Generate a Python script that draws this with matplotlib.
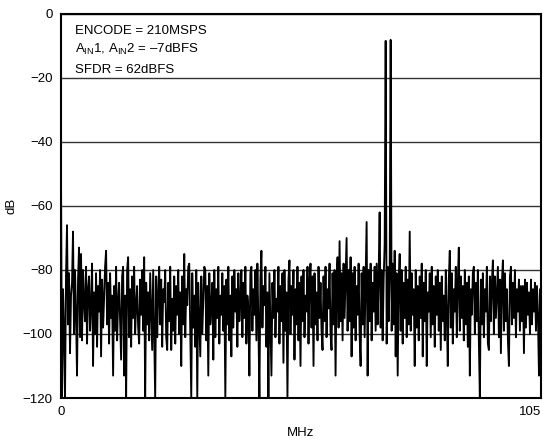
"""FFT spectrum: two-tone test, ENCODE = 210MSPS"""

import numpy as np
import matplotlib
matplotlib.use("Agg")
import matplotlib.pyplot as plt
import matplotlib.transforms as mtransforms

plt.rcParams["font.family"] = ["Liberation Sans", "DejaVu Sans"]
plt.rcParams["mathtext.fontset"] = "custom"
plt.rcParams["mathtext.rm"] = "Liberation Sans"

# ── spectrum values (dB), one per bin ──
spectrum_db = [
    -50, -120, -86, -99, -120, -82, -66, -97, -81, -106, -88, -84, -68, -100, -80, -94, -113, -83, -73, -101,
    -75, -102, -80, -90, -96, -79, -103, -86, -82, -99, -91, -78, -110, -87, -100, -81, -104, -85, -93, -80,
    -107, -83, -98, -89, -79, -74, -97, -84, -103, -81, -95, -88, -113, -85, -99, -79, -102, -90, -84, -96,
    -108, -82, -79, -113, -88, -120, -80, -76, -101, -86, -104, -82, -95, -79, -100, -91, -85, -98, -103, -83,
    -94, -80, -99, -76, -120, -84, -97, -87, -102, -81, -93, -105, -80, -99, -120, -82, -101, -88, -79, -97,
    -83, -104, -86, -90, -80, -101, -105, -84, -96, -79, -105, -89, -99, -82, -103, -85, -94, -80, -100, -87,
    -110, -82, -97, -75, -101, -86, -91, -79, -78, -99, -120, -81, -98, -88, -104, -80, -120, -84, -96, -107,
    -82, -100, -89, -79, -80, -102, -85, -113, -81, -97, -91, -84, -108, -80, -101, -86, -95, -79, -103, -88,
    -94, -81, -99, -85, -120, -83, -97, -79, -102, -88, -107, -82, -98, -80, -93, -86, -104, -81, -96, -90,
    -80, -101, -84, -95, -79, -103, -88, -92, -113, -81, -79, -99, -86, -94, -80, -102, -78, -97, -120, -83,
    -74, -98, -85, -91, -79, -104, -87, -120, -81, -97, -113, -84, -95, -80, -101, -89, -93, -79, -103, -85,
    -96, -81, -109, -80, -99, -87, -120, -83, -77, -100, -85, -94, -80, -108, -86, -97, -79, -102, -84, -110,
    -82, -96, -80, -101, -88, -93, -79, -103, -84, -78, -98, -82, -110, -81, -97, -87, -102, -79, -95, -84,
    -99, -105, -82, -96, -79, -101, -86, -92, -78, -100, -105, -81, -97, -80, -113, -83, -76, -98, -71, -96,
    -81, -102, -78, -95, -83, -70, -99, -80, -96, -76, -107, -81, -98, -79, -102, -85, -94, -78, -100, -110,
    -81, -97, -79, -101, -83, -65, -113, -80, -96, -78, -102, -84, -93, -79, -99, -78, -97, -81, -62, -98,
    -80, -102, -83, -72, -8.4, -103, -79, -96, -82, -8.1, -99, -78, -97, -74, -107, -81, -113, -83, -75, -99,
    -80, -103, -84, -95, -79, -101, -83, -97, -68, -99, -81, -94, -86, -110, -80, -98, -85, -102, -82, -95,
    -78, -107, -84, -96, -80, -110, -87, -93, -81, -101, -79, -97, -85, -104, -82, -94, -80, -99, -84, -105,
    -82, -96, -88, -102, -80, -94, -110, -83, -74, -98, -81, -103, -86, -93, -79, -101, -84, -73, -99, -82,
    -95, -85, -102, -80, -97, -84, -104, -82, -113, -86, -94, -81, -79, -100, -84, -96, -80, -102, -120, -83,
    -97, -81, -101, -86, -93, -79, -103, -105, -82, -96, -84, -77, -100, -82, -95, -87, -79, -101, -83, -106,
    -84, -77, -99, -81, -96, -86, -102, -110, -82, -79, -97, -84, -95, -80, -101, -86, -93, -83, -99, -85,
    -96, -85, -106, -83, -98, -84, -94, -87, -100, -83, -97, -86, -93, -84, -99, -85, -95, -113, -86, -93,
]
# FFT bin axis, 0 .. fs/2
freq_mhz = np.linspace(0, 105, len(spectrum_db))

y_ticks = [0, -20, -40, -60, -80, -100, -120]
x_ticks = [0, 105]
notes = ["ENCODE = 210MSPS",
         r"A$_{\rm IN}$1, A$_{\rm IN}$2 = –7dBFS",
         "SFDR = 62dBFS"]

fig = plt.figure(figsize=(5.5, 4.44), dpi=100)
ax = fig.add_axes([0.1109, 0.1036, 0.8727, 0.8649])

ax.plot(freq_mhz, spectrum_db, color="black", linewidth=1.35)

ax.set_xlim(0, 105)
ax.set_ylim(-120, 0)
ax.set_yticks(y_ticks)
ax.set_xticks(x_ticks)
ax.tick_params(length=0, labelsize=9.5, pad=6)
ax.yaxis.grid(True, color="#333333", linewidth=1.0)
ax.set_axisbelow(True)
for s in ax.spines.values():
    s.set_linewidth(1.5)
    s.set_color("black")

# pull "105" a little inside the figure edge
lbl = ax.get_xticklabels()[-1]
lbl.set_transform(lbl.get_transform() +
                  mtransforms.ScaledTranslation(-8 / 72, 0, fig.dpi_scale_trans))

ax.set_xlabel("MHz", fontsize=9.5, labelpad=6)
ax.set_ylabel("dB", fontsize=9.5, labelpad=4)

for txt, ypos in zip(notes, [0.955, 0.908, 0.853]):
    ax.text(0.03, ypos, txt, transform=ax.transAxes, fontsize=9.5,
            va="center", ha="left")

plt.savefig("out.png", dpi=100)
